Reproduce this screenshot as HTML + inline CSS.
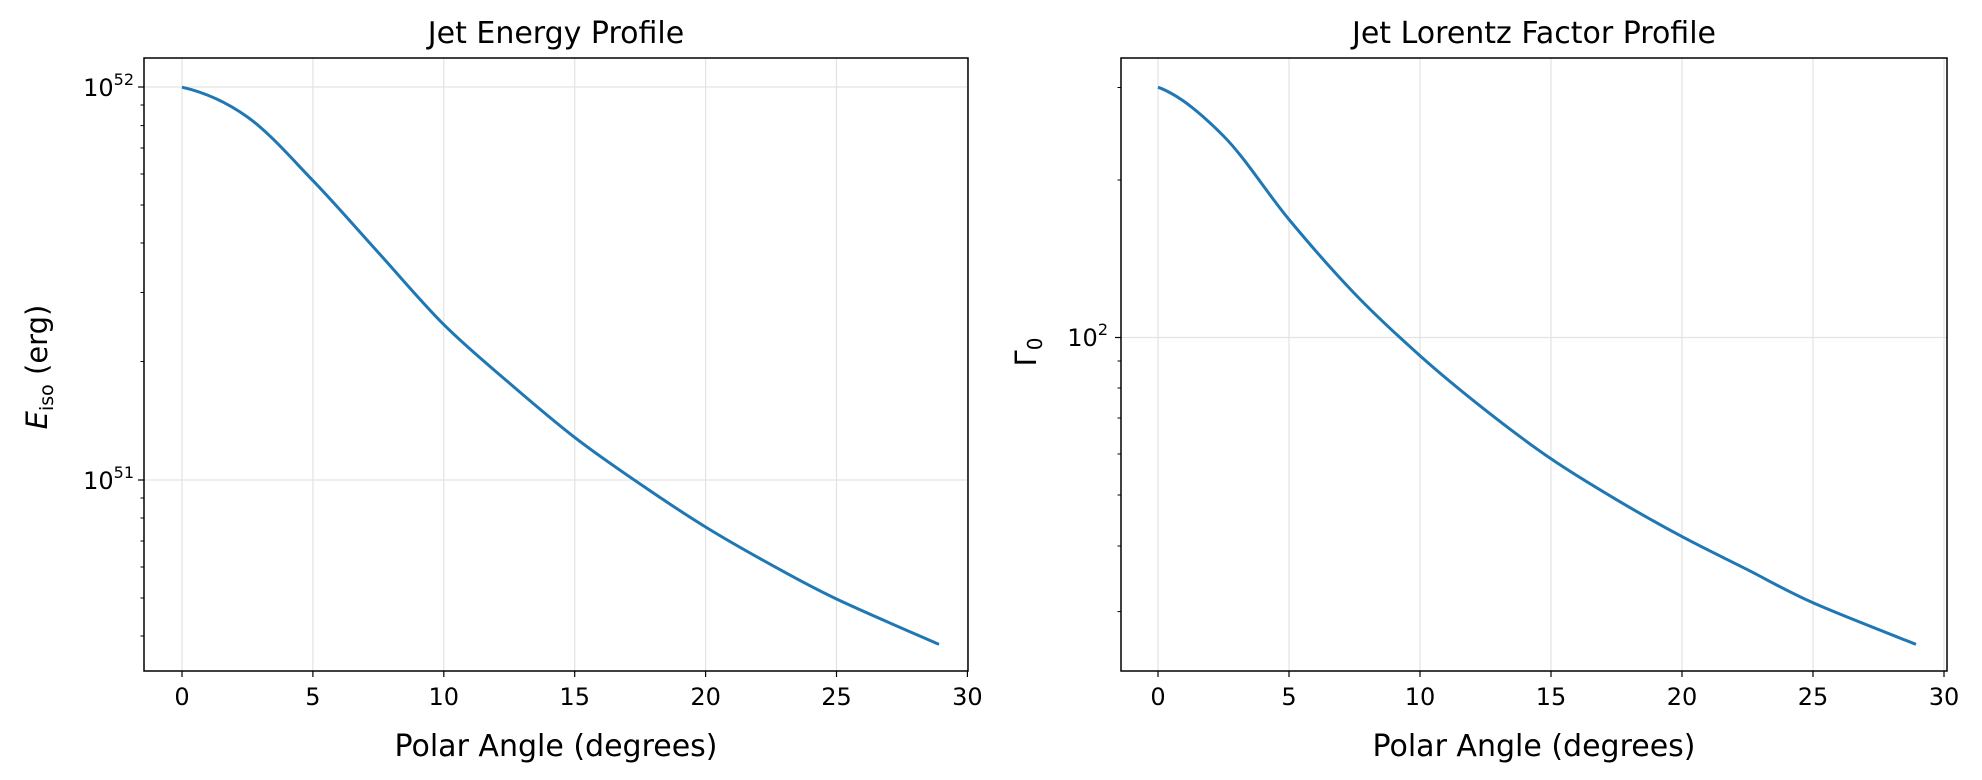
<!DOCTYPE html>
<html><head><meta charset="utf-8"><style>
body{margin:0;background:#fff;}
svg{display:block;font-family:"DejaVu Sans","Liberation Sans",sans-serif;}
</style></head><body>
<svg id="s" width="1982" height="780" viewBox="0 0 1982 780" xmlns="http://www.w3.org/2000/svg">
<rect width="1982" height="780" fill="#fff"/>
<g id="g"></g>
<text x="556" y="43" font-size="30" text-anchor="middle">Jet Energy Profile</text>
<text x="1534" y="43" font-size="30" text-anchor="middle">Jet Lorentz Factor Profile</text>
<text x="556" y="756" font-size="30" text-anchor="middle">Polar Angle (degrees)</text>
<text x="1534" y="756" font-size="30" text-anchor="middle">Polar Angle (degrees)</text>
<text transform="translate(47,367) rotate(-90)" font-size="29" text-anchor="middle"><tspan font-style="italic">E</tspan><tspan font-size="19" dy="6">iso</tspan><tspan dy="-6"> (erg)</tspan></text>
<text transform="translate(1036,352) rotate(-90)" font-size="29" text-anchor="middle">Γ<tspan font-size="20" dy="6">0</tspan></text>
<text x="134" y="96" font-size="24" text-anchor="end">10<tspan font-size="16" dy="-11">52</tspan></text>
<text x="134" y="489" font-size="24" text-anchor="end">10<tspan font-size="16" dy="-11">51</tspan></text>
<text x="1108" y="346" font-size="24" text-anchor="end">10<tspan font-size="16" dy="-11">2</tspan></text>
</svg>
<script>
const g=document.getElementById('g');let h='';
function ln(x1,y1,x2,y2,c,w){h+=`<line x1="${x1}" y1="${y1}" x2="${x2}" y2="${y2}" stroke="${c}" stroke-width="${w}"/>`;}
function txt(x,y,t){h+=`<text x="${x}" y="${y}" font-size="24" text-anchor="middle">${t}</text>`;}
function path(p){let d=`M${p[0][0]},${p[0][1]}`;for(let i=0;i<p.length-1;i++){const b=p[i],c=p[i+1];const a=i>0?p[i-1]:[2*b[0]-c[0],b[1]];const e=p[Math.min(p.length-1,i+2)];d+=` C${b[0]+(c[0]-a[0])/6},${b[1]+(c[1]-a[1])/6} ${c[0]-(e[0]-b[0])/6},${c[1]-(e[1]-b[1])/6} ${c[0]},${c[1]}`;}h+=`<path d="${d}" fill="none" stroke="#1f77b4" stroke-width="3"/>`;}
function panel(L,R,x0,step,yMaj,yMin,ys,xEnd){
 const T=58,B=671;
 for(let i=0;i<=6;i++){const x=x0+i*step;ln(x,T,x,B,'#e3e3e3',1.2);ln(x,B,x,B+6,'#000',1.2);txt(x,B+34,i*5);}
 yMaj.forEach(y=>{ln(L,y,R,y,'#e3e3e3',1.2);ln(L-6,y,L,y,'#000',1.2);});
 yMin.forEach(y=>ln(L-3.5,y,L,y,'#000',1));
 const pts=ys.map((y,i)=>[i<ys.length-1?x0+i*step/2:xEnd,y]);
 path(pts);
 h+=`<rect x="${L}" y="${T}" width="${R-L}" height="${B-T}" fill="none" stroke="#000" stroke-width="1.5"/>`;
}
panel(144,968,182,130.9,[87,480],[105,125.6,148,174,205,243,292.5,361.5,498,518,541,567,598,636],
[87.2,117,180.6,252.6,324.6,383,437.4,484,527,564.7,599,644.4],939);
panel(1121,1947,1158,131,[337.5],[87.5,180,361,388,418,454,495,546,611.6],
[87.2,136,219.5,293.5,355.7,410.2,458.8,499.7,536.6,569.7,602.8,644.4],1916);
g.innerHTML=h;
</script>
</body></html>
